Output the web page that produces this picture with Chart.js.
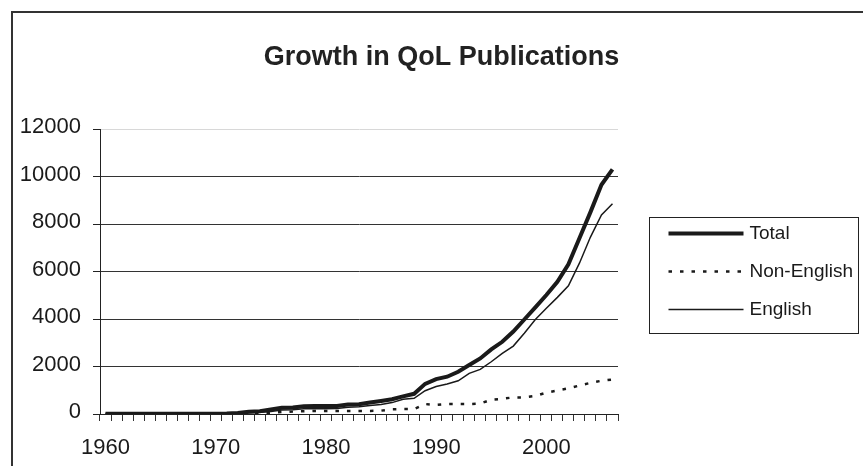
<!DOCTYPE html>
<html>
<head>
<meta charset="utf-8">
<script src="https://cdn.jsdelivr.net/npm/chart.js@4"></script>
<style>
  body { margin: 0; background: #fff; }
</style>
</head>
<body>
<canvas id="myChart" width="863" height="466"></canvas>
<script>
  // data, 1960..2006
  const years = [];
  for (let y = 1960; y <= 2006; y++) years.push(y);

  const total = [10, 10, 10, 10, 10, 10, 10, 10, 15, 15,
                 15, 20, 40, 90, 120, 190, 260, 270, 330, 340,
                 340, 340, 400, 410, 480, 550, 620, 740, 850, 1270,
                 1470, 1570, 1780, 2060, 2340, 2720, 3040, 3470, 3980, 4490,
                 5010, 5570, 6300, 7400, 8500, 9650, 10300];

  const nonEnglish = [5, 5, 5, 5, 5, 5, 5, 5, 5, 5,
                      5, 5, 5, 20, 30, 60, 80, 100, 120, 130,
                      130, 130, 130, 130, 130, 140, 200, 210, 210, 420,
                      380, 420, 420, 420, 440, 600, 640, 700, 700, 760,
                      900, 990, 1080, 1200, 1310, 1400, 1450];

  const english = [5, 5, 5, 5, 5, 5, 5, 5, 5, 5,
                   5, 10, 20, 50, 70, 110, 170, 180, 220, 220,
                   220, 230, 280, 310, 360, 400, 480, 620, 660, 980,
                   1160, 1260, 1400, 1710, 1880, 2200, 2550, 2860, 3400, 3980,
                   4450, 4910, 5400, 6350, 7450, 8380, 8850];

  const yTicks = [0, 2000, 4000, 6000, 8000, 10000, 12000];

  const ink = '#1a1a1a';
  const font = 'Liberation Sans, Arial, sans-serif';

  // outer frame (top + left only) and the boxed legend at the right
  const framePlugin = {
    id: 'frame',
    afterDraw(chart) {
      const ctx = chart.ctx;
      const area = chart.chartArea;
      ctx.save();
      ctx.strokeStyle = '#333';
      ctx.lineWidth = 2;
      ctx.beginPath();
      ctx.moveTo(12, chart.height);
      ctx.lineTo(12, 12);
      ctx.lineTo(chart.width, 12);
      ctx.stroke();

      // legend
      const sets = chart.data.datasets;
      const mid = (area.top + area.bottom) / 2;
      const step = 38;
      const left = Math.round(area.right + 31) + 0.5;
      const right = chart.width - 4.5;
      const first = mid - step * (sets.length - 1) / 2;
      const top = Math.round(first - 17) + 0.5;
      const bottom = Math.round(first + step * (sets.length - 1) + 23) + 0.5;
      ctx.lineWidth = 1;
      ctx.strokeStyle = '#222';
      ctx.setLineDash([]);
      ctx.strokeRect(left, top, right - left, bottom - top);

      ctx.font = '19px ' + font;
      ctx.textBaseline = 'middle';
      ctx.textAlign = 'left';
      sets.forEach((ds, i) => {
        const y = first + i * step;
        ctx.strokeStyle = ds.borderColor;
        ctx.lineWidth = ds.borderWidth;
        ctx.setLineDash(ds.borderDash || []);
        ctx.beginPath();
        ctx.moveTo(left + 19, y);
        ctx.lineTo(left + 94, y);
        ctx.stroke();
        ctx.fillStyle = ink;
        ctx.fillText(ds.label, left + 100, y);
      });
      ctx.restore();
    }
  };

  const data = {
    labels: years,
    datasets: [{
      label: 'Total',
      data: total,
      borderColor: ink,
      borderWidth: 4,
      pointRadius: 0,
      tension: 0
    }, {
      label: 'Non-English',
      data: nonEnglish,
      borderColor: ink,
      borderWidth: 2.5,
      borderDash: [3.5, 8],
      pointRadius: 0,
      tension: 0
    }, {
      label: 'English',
      data: english,
      borderColor: ink,
      borderWidth: 1.5,
      pointRadius: 0,
      tension: 0
    }]
  };

  const config = {
    type: 'line',
    data,
    options: {
      responsive: false,
      animation: false,
      layout: { padding: { left: 20, right: 0, top: 0, bottom: 0 } },
      plugins: {
        title: {
          display: true,
          text: 'Growth in QoL Publications',
          color: '#222',
          font: { family: font, size: 27, weight: 'bold' },
          padding: { top: 41, bottom: 55.6 }
        },
        legend: { display: false },
        tooltip: { enabled: false }
      },
      scales: {
        x: {
          offset: true,
          grid: {
            offset: true,
            drawOnChartArea: false,
            drawTicks: true,
            tickLength: 7,
            color: '#333'
          },
          border: { color: '#222', width: 1 },
          ticks: {
            autoSkip: false,
            maxRotation: 0,
            minRotation: 0,
            padding: 14,
            color: ink,
            font: { family: font, size: 22 },
            callback(v) {
              const y = this.getLabelForValue(v);
              return y % 10 === 0 ? String(y) : '';
            }
          },
          afterFit(s) { s.height = 52; }
        },
        y: {
          min: yTicks[0],
          max: yTicks[yTicks.length - 1],
          afterBuildTicks(s) { s.ticks = yTicks.map(v => ({ value: v })); },
          grid: {
            tickLength: 7,
            tickColor: '#222',
            color: c => (c.tick && c.tick.value === 12000 ? '#d8d8d8' : '#333')
          },
          border: { color: '#222', width: 1 },
          ticks: {
            padding: 12,
            labelOffset: -2,
            color: ink,
            font: { family: font, size: 22 },
            callback: v => String(v)
          },
          afterFit(s) { s.width = 80; }
        },
        // empty column on the right that the legend box is drawn into
        spacer: {
          type: 'linear',
          position: 'right',
          grid: { display: false },
          border: { display: false },
          ticks: { display: false },
          afterFit(s) { s.width = 245; }
        }
      }
    },
    plugins: [framePlugin]
  };

  const myChart = new Chart(document.getElementById('myChart'), config);
</script>
</body>
</html>
